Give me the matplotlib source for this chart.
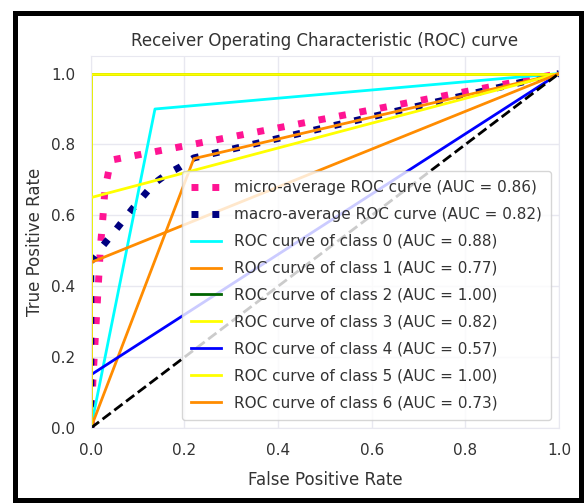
import numpy as np
import matplotlib.pyplot as plt
from matplotlib.patches import Rectangle

# ROC curve points
micro_fpr = [0.0, 0.005, 0.021, 0.025, 0.03, 0.038, 0.048, 1.0]
micro_tpr = [0.0, 0.15, 0.52, 0.58, 0.67, 0.725, 0.757, 1.0]
macro_fpr = [0.0, 0.0, 0.023, 0.046, 0.088, 0.135, 0.163, 0.19, 0.22, 1.0]
macro_tpr = [0.0, 0.47, 0.51, 0.547, 0.617, 0.69, 0.717, 0.736, 0.762, 1.0]

class_fpr = [
    [0.0, 0.137, 1.0],   # class 0
    [0.0, 0.22, 1.0],    # class 1
    [0.0, 0.0, 1.0],     # class 2
    [0.0, 0.0, 1.0],     # class 3
    [0.0, 0.0, 1.0],     # class 4
    [0.0, 0.0, 1.0],     # class 5
    [0.0, 0.0, 1.0],     # class 6
]
class_tpr = [
    [0.0, 0.9, 1.0],
    [0.0, 0.76, 1.0],
    [0.0, 1.0, 1.0],
    [0.0, 0.65, 1.0],
    [0.0, 0.15, 1.0],
    [0.0, 1.0, 1.0],
    [0.0, 0.467, 1.0],
]
class_auc = [0.88, 0.77, 1.00, 0.82, 0.57, 1.00, 0.73]
micro_auc = 0.86
macro_auc = 0.82
colors = ["aqua", "darkorange", "darkgreen", "yellow", "blue", "yellow", "darkorange"]

plt.rcParams["font.family"] = "DejaVu Sans"
plt.rcParams["text.color"] = "#333333"
plt.rcParams["xtick.color"] = "#333333"
plt.rcParams["ytick.color"] = "#333333"
plt.rcParams["axes.labelcolor"] = "#333333"

fig = plt.figure(figsize=(5.86, 5.03), dpi=100)
ax = fig.add_axes([0.155, 0.149, 0.799, 0.74])

lw = 2
ax.plot(micro_fpr, micro_tpr, color="deeppink", linestyle=(0, (1, 2)), linewidth=5,
        label="micro-average ROC curve (AUC = {0:0.2f})".format(micro_auc))
ax.plot(macro_fpr, macro_tpr, color="navy", linestyle=(0, (1, 2)), linewidth=5,
        label="macro-average ROC curve (AUC = {0:0.2f})".format(macro_auc))
for i in range(len(class_auc)):
    ax.plot(class_fpr[i], class_tpr[i], color=colors[i], lw=lw,
            label="ROC curve of class {0} (AUC = {1:0.2f})".format(i, class_auc[i]))
ax.plot([0, 1], [0, 1], "k--", lw=lw)

ax.set_xlim([0.0, 1.0])
ax.set_ylim([0.0, 1.05])
ax.set_xlabel("False Positive Rate", fontsize=12, labelpad=9)
ax.set_ylabel("True Positive Rate", fontsize=12, labelpad=5)
ax.set_title("Receiver Operating Characteristic (ROC) curve", fontsize=12, pad=7)
ax.tick_params(labelsize=11, length=0, pad=11)
ax.grid(True, color="#e8e8f0", linewidth=1)
for s in ax.spines.values():
    s.set_color("#e8e8f0")
ax.legend(loc="lower right", fontsize=11, labelspacing=0.78, borderpad=0.6,
          borderaxespad=0.55)

# black frame around the whole figure
fig.patches.append(Rectangle((0.026, 0.006), 0.965, 0.969, transform=fig.transFigure,
                             fill=False, edgecolor="black", linewidth=3.6))

fig.savefig("out.png", dpi=100)
